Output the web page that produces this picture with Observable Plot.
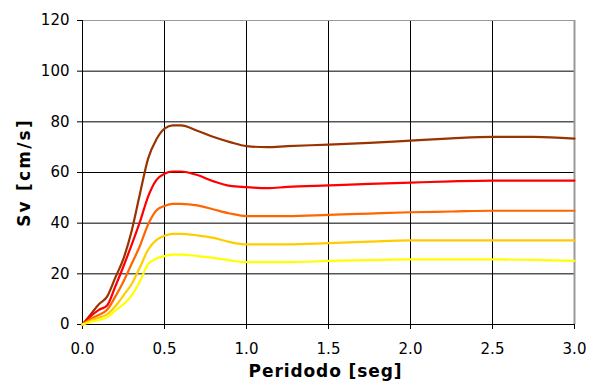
<!DOCTYPE html>
<html>
<head>
<meta charset="utf-8">
<script src="https://cdn.jsdelivr.net/npm/d3@7"></script>
<script src="https://cdn.jsdelivr.net/npm/@observablehq/plot@0.6"></script>
<style>
  body { margin: 0; background: #fff; }
  #chart svg { display: block; }
</style>
</head>
<body>
<div id="chart"></div>
<script>
const periods = [0, 0.05, 0.1, 0.15, 0.2, 0.25, 0.3, 0.35, 0.4, 0.45, 0.5, 0.55, 0.6, 0.7, 0.8, 0.9, 1.0, 1.125, 1.25, 1.5, 1.75, 2.0, 2.25, 2.5, 2.75, 3.0];
const seriesNames = ["s1", "s2", "s3", "s4", "s5"];
const seriesColors = ["#993300", "#FF0000", "#FF6600", "#FFCC00", "#FFFF00"];
const sv1 = [0, 4, 8, 11, 18.5, 26, 37, 51.5, 65.5, 73, 77.3, 78.6, 78.6, 76.5, 74, 72, 70.4, 70, 70.4, 71, 71.7, 72.6, 73.5, 74.1, 74.1, 73.4];
const sv2 = [0, 3.3, 5.8, 7.5, 15, 23, 31.5, 40.5, 50.5, 57, 59.5, 60.4, 60.4, 59, 56.5, 54.7, 54.2, 53.8, 54.3, 54.9, 55.5, 56, 56.5, 56.8, 56.8, 56.8];
const sv3 = [0, 2.2, 3.8, 5.8, 11, 17, 24, 31, 39.5, 45, 46.8, 47.6, 47.6, 47, 45.4, 43.8, 42.8, 42.8, 42.8, 43.3, 43.8, 44.3, 44.6, 44.9, 44.9, 44.9];
const sv4 = [0, 1.5, 2.7, 4, 7.2, 11.5, 16, 22.5, 29.5, 33.3, 35, 35.8, 35.8, 35.2, 34.2, 32.5, 31.6, 31.6, 31.6, 32.1, 32.7, 33.2, 33.2, 33.2, 33.2, 33.2];
const sv5 = [0, 1, 1.8, 2.8, 5.5, 8, 11.5, 17, 23.8, 26, 27, 27.6, 27.6, 27, 26.3, 25.3, 24.6, 24.6, 24.6, 25.1, 25.4, 25.7, 25.7, 25.7, 25.5, 25.1];
const xTicks = [0, 0.5, 1, 1.5, 2, 2.5, 3];
const yTicks = [0, 20, 40, 60, 80, 100, 120];
const xTitle = "Peridodo [seg]";
const yTitle = "Sv [cm/s]";

const allSeries = [sv1, sv2, sv3, sv4, sv5];
const data = [];
allSeries.forEach((vals, s) => {
  vals.forEach((v, i) => data.push({series: seriesNames[s], period: periods[i], sv: v}));
});

const chart = Plot.plot({
  width: 601,
  height: 390,
  marginLeft: 82,
  marginRight: 27,
  marginTop: 20,
  marginBottom: 66,
  style: {fontFamily: "'DejaVu Sans', Verdana, sans-serif", fontSize: "15px", background: "#fff", color: "#000"},
  x: {domain: [0, 3], ticks: xTicks},
  y: {domain: [0, 120], ticks: yTicks},
  color: {domain: seriesNames, range: seriesColors},
  marks: [
    Plot.gridY(yTicks, {stroke: "#000", strokeOpacity: 1, strokeWidth: 1}),
    Plot.gridX(xTicks.slice(1, -1), {stroke: "#000", strokeOpacity: 1, strokeWidth: 1}),
    Plot.ruleX([3], {stroke: "#999", strokeWidth: 2}),
    Plot.ruleY([120], {stroke: "#999", strokeWidth: 1}),
    Plot.ruleX([0], {stroke: "#000"}),
    Plot.ruleY([0], {stroke: "#000"}),
    Plot.axisX(xTicks, {tickSize: 5, tickPadding: 14, tickFormat: d3.format(".1f"), label: null}),
    Plot.axisY(yTicks, {tickSize: 5, tickPadding: 8, label: null}),
    Plot.line(data, {x: "period", y: "sv", z: "series", stroke: "series", strokeWidth: 2.2, curve: "monotone-x"}),
    Plot.text([xTitle], {frameAnchor: "bottom", dy: 52, dx: -3, fontWeight: "bold", fontSize: 17, text: d => d}),
    Plot.text([yTitle], {frameAnchor: "left", textAnchor: "middle", dx: -58, rotate: -90, fontWeight: "bold", fontSize: 17, text: d => d})
  ]
});
d3.select(chart).selectAll("text").each(function() {
  const t = d3.select(this);
  if (t.text() === xTitle) t.attr("letter-spacing", "0.9px");
  if (t.text() === yTitle) t.attr("letter-spacing", "2.2px");
});
document.getElementById("chart").appendChild(chart);
</script>
</body>
</html>
